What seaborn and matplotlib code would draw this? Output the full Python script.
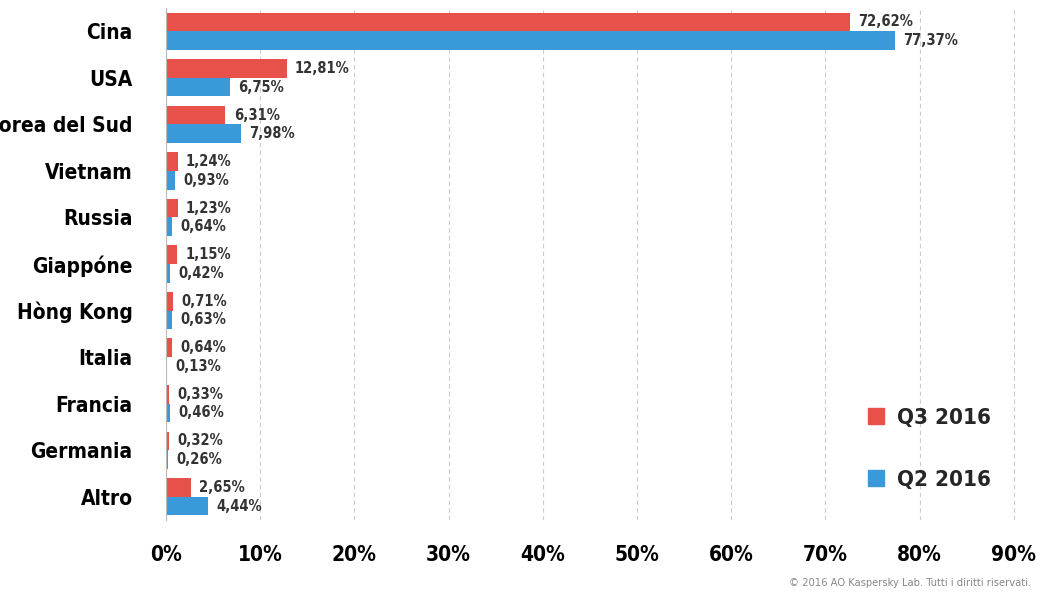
import seaborn as sns
import matplotlib.pyplot as plt
import pandas as pd
from matplotlib.patches import Patch

countries = ["Cina", "USA", "Corea del Sud", "Vietnam", "Russia", "Giappóne",
             "Hòng Kong", "Italia", "Francia", "Germania", "Altro"]
q3 = [72.62, 12.81, 6.31, 1.24, 1.23, 1.15, 0.71, 0.64, 0.33, 0.32, 2.65]
q2 = [77.37, 6.75, 7.98, 0.93, 0.64, 0.42, 0.63, 0.13, 0.46, 0.26, 4.44]
periods = ["Q3 2016", "Q2 2016"]
colors = ["#e8504a", "#3a9ad9"]

df = pd.DataFrame({
    "country": countries * 2,
    "value": q3 + q2,
    "period": [periods[0]] * len(q3) + [periods[1]] * len(q2),
})

sns.set_style("white")
plt.rcParams['font.family'] = ['DejaVu Sans']
plt.rcParams['font.stretch'] = 'condensed'
plt.rcParams['font.weight'] = 'bold'

fig = plt.figure(figsize=(10.42, 5.95), dpi=100)
ax = fig.add_axes([166 / 1042, 75 / 595, 876 / 1042, 512 / 595])
sns.barplot(data=df, y="country", x="value", hue="period", palette=colors,
            orient="h", width=0.8, legend=False, ax=ax, saturation=1, linewidth=0)

for cont, vals in zip(ax.containers, [q3, q2]):
    labels = [f"{v:.2f}".replace(".", ",") + "%" for v in vals]
    ax.bar_label(cont, labels=labels, padding=6, fontsize=10.5, color="#333333")

ax.set_xlim(0, 93)
ax.set_xticks(range(0, 91, 10))
ax.set_xticklabels([f"{t}%" for t in range(0, 91, 10)], fontsize=15)
ax.tick_params(axis="y", labelsize=15, length=0, pad=24, labelcolor="black")
ax.tick_params(axis="x", length=0, pad=18, labelcolor="black")
ax.set_xlabel("")
ax.set_ylabel("")
ax.xaxis.grid(True, linestyle=(0, (4, 3)), color="#cccccc", linewidth=0.8)
ax.set_axisbelow(True)
for s in ["top", "right", "bottom"]:
    ax.spines[s].set_visible(False)
ax.spines["left"].set_color("#bbbbbb")

handles = [Patch(color=c, label=p) for c, p in zip(colors, periods)]
ax.legend(handles=handles, loc="lower right", bbox_to_anchor=(0.965, 0.02),
          frameon=False, fontsize=16, labelspacing=1.9, handlelength=0.7,
          handleheight=0.7, handletextpad=0.6)

fig.text(0.99, 0.015, "© 2016 AO Kaspersky Lab. Tutti i diritti riservati.",
         ha="right", fontsize=8, color="#888888", weight="normal")

fig.savefig("out.png", dpi=100)
